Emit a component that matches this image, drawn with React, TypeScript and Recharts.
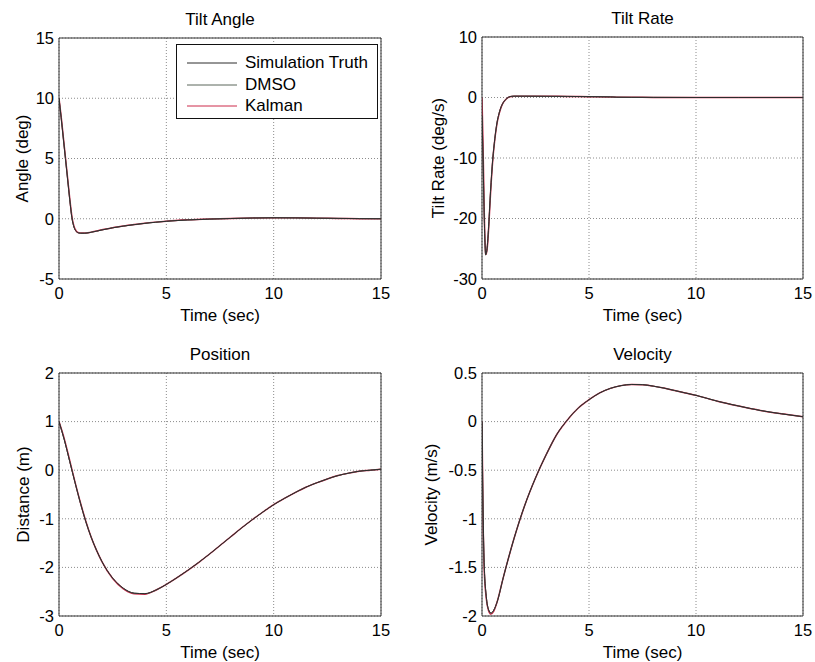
import React from 'react';
import { LineChart, Line, XAxis, YAxis, CartesianGrid, Legend, Label } from 'recharts';

const FONT = '"Liberation Sans", Arial, Helvetica, sans-serif';

// ---------- data ----------
const timeTicks = [0, 5, 10, 15];

const angleTime = [0, 0.1, 0.2, 0.3, 0.4, 0.5, 0.6, 0.7, 0.8, 0.9, 1.0, 1.2, 1.5, 2, 2.5, 3, 3.5, 4, 4.5, 5, 6, 7, 8, 9, 10, 11, 12, 13, 14, 15];
const angleTruth = [10, 8.4, 6.7, 5.0, 3.3, 1.6, 0.1, -0.7, -1.05, -1.17, -1.2, -1.2, -1.12, -0.93, -0.75, -0.61, -0.49, -0.38, -0.29, -0.21, -0.1, -0.03, 0.02, 0.06, 0.08, 0.07, 0.05, 0.03, 0.01, 0];
const angleDmso = [10, 8.4, 6.7, 5.0, 3.3, 1.6, 0.1, -0.7, -1.05, -1.17, -1.2, -1.2, -1.12, -0.93, -0.75, -0.61, -0.49, -0.38, -0.29, -0.21, -0.1, -0.03, 0.02, 0.06, 0.08, 0.07, 0.05, 0.03, 0.01, 0];
const angleKalman = [10, 8.5, 6.8, 5.1, 3.4, 1.7, 0.2, -0.65, -1.02, -1.15, -1.19, -1.19, -1.11, -0.92, -0.74, -0.6, -0.48, -0.37, -0.28, -0.2, -0.09, -0.02, 0.03, 0.07, 0.09, 0.08, 0.05, 0.03, 0.01, 0];
const angleTicks = [-5, 0, 5, 10, 15];

const rateTime = [0, 0.05, 0.1, 0.15, 0.17, 0.2, 0.25, 0.3, 0.4, 0.5, 0.6, 0.7, 0.8, 0.9, 1.0, 1.1, 1.2, 1.3, 1.5, 2, 3, 4, 5, 6, 6.3, 7, 8, 10, 12, 15];
const rateTruth = [-3, -10, -19, -25, -26, -25.8, -24.5, -22, -15.5, -10.3, -6.8, -4.2, -2.6, -1.5, -0.8, -0.35, -0.05, 0.15, 0.22, 0.22, 0.2, 0.18, 0.14, 0.1, 0.05, 0.03, 0.02, 0, 0, 0];
const rateDmso = [-3, -10, -19, -25, -26, -25.8, -24.5, -22, -15.5, -10.3, -6.8, -4.2, -2.6, -1.5, -0.8, -0.35, -0.05, 0.15, 0.22, 0.22, 0.2, 0.18, 0.14, 0.1, 0.05, 0.03, 0.02, 0, 0, 0];
const rateKalman = [0, -8, -18, -24.5, -25.8, -25.9, -24.7, -22.3, -15.8, -10.5, -6.9, -4.3, -2.7, -1.55, -0.82, -0.36, -0.06, 0.14, 0.22, 0.22, 0.2, 0.18, 0.14, 0.1, 0.05, 0.03, 0.02, 0, 0, 0];
const rateTicks = [-30, -20, -10, 0, 10];

const posTime = [0, 0.25, 0.5, 0.75, 1, 1.25, 1.5, 1.75, 2, 2.5, 3, 3.5, 4, 4.5, 5, 5.5, 6, 6.5, 7, 7.5, 8, 8.5, 9, 9.5, 10, 10.5, 11, 11.5, 12, 12.5, 13, 13.5, 14, 14.5, 15];
const posTruth = [1.0, 0.62, 0.18, -0.26, -0.68, -1.06, -1.38, -1.65, -1.88, -2.22, -2.43, -2.53, -2.54, -2.47, -2.35, -2.21, -2.06, -1.9, -1.73, -1.55, -1.37, -1.19, -1.02, -0.86, -0.71, -0.58, -0.46, -0.35, -0.26, -0.18, -0.11, -0.06, -0.02, 0.0, 0.02];
const posDmso = [1.0, 0.62, 0.18, -0.26, -0.68, -1.06, -1.38, -1.65, -1.88, -2.22, -2.43, -2.53, -2.54, -2.47, -2.35, -2.21, -2.06, -1.9, -1.73, -1.55, -1.37, -1.19, -1.02, -0.86, -0.71, -0.58, -0.46, -0.35, -0.26, -0.18, -0.11, -0.06, -0.02, 0.0, 0.02];
const posKalman = [1.0, 0.64, 0.2, -0.25, -0.67, -1.05, -1.38, -1.65, -1.88, -2.23, -2.44, -2.54, -2.55, -2.47, -2.35, -2.21, -2.06, -1.9, -1.73, -1.55, -1.37, -1.19, -1.02, -0.86, -0.71, -0.58, -0.46, -0.35, -0.26, -0.18, -0.11, -0.06, -0.02, 0.0, 0.02];
const posTicks = [-3, -2, -1, 0, 1, 2];

const velTime = [0, 0.05, 0.1, 0.2, 0.3, 0.42, 0.55, 0.7, 1, 1.5, 2, 2.5, 3, 3.5, 4, 4.5, 5, 5.5, 6, 6.5, 7, 7.5, 8, 8.5, 9, 9.5, 10, 11, 12, 13, 14, 15];
const velTruth = [0, -0.9, -1.45, -1.8, -1.93, -1.97, -1.94, -1.86, -1.6, -1.2, -0.86, -0.58, -0.34, -0.13, 0.02, 0.14, 0.225, 0.295, 0.342, 0.37, 0.382, 0.38, 0.365, 0.345, 0.32, 0.295, 0.27, 0.21, 0.16, 0.115, 0.08, 0.05];
const velDmso = [0, -0.9, -1.45, -1.8, -1.93, -1.97, -1.94, -1.86, -1.6, -1.2, -0.86, -0.58, -0.34, -0.13, 0.02, 0.14, 0.225, 0.295, 0.342, 0.37, 0.382, 0.38, 0.365, 0.345, 0.32, 0.295, 0.27, 0.21, 0.16, 0.115, 0.08, 0.05];
const velKalman = [0, -1.0, -1.5, -1.82, -1.94, -1.98, -1.95, -1.86, -1.6, -1.2, -0.86, -0.58, -0.34, -0.13, 0.02, 0.14, 0.225, 0.295, 0.342, 0.37, 0.382, 0.38, 0.365, 0.345, 0.32, 0.295, 0.27, 0.21, 0.16, 0.115, 0.08, 0.05];
const velTicks = [-2, -1.5, -1, -0.5, 0, 0.5];

const SERIES = [
  { key: 'truth', name: 'Simulation Truth', color: '#2c2c2c' },
  { key: 'dmso', name: 'DMSO', color: '#5b665b' },
  { key: 'kalman', name: 'Kalman', color: '#cc2a4a' },
];

function build(time: number[], truth: number[], dmso: number[], kalman: number[]) {
  return time.map((t, i) => ({ t, truth: truth[i], dmso: dmso[i], kalman: kalman[i] }));
}

const tickStyle = { fontSize: 16.5, fill: '#000', fontFamily: FONT };
const AXIS = '#333';

function LegendBox() {
  return (
    <div
      style={{
        width: 202,
        height: 75,
        boxSizing: 'border-box',
        border: '1px solid #111',
        background: '#fff',
        position: 'relative',
        fontFamily: FONT,
        fontSize: 17,
        color: '#000',
      }}
    >
      {SERIES.map((s, i) => (
        <div key={s.key} style={{ position: 'absolute', left: 0, top: 7 + i * 21.5, height: 22, width: 200 }}>
          <svg width={60} height={22} style={{ position: 'absolute', left: 0, top: 0 }}>
            <line x1={10} x2={60} y1={11} y2={11} stroke={s.color} strokeWidth={1} />
          </svg>
          <span style={{ position: 'absolute', left: 68, top: 0, lineHeight: '22px', whiteSpace: 'nowrap' }}>{s.name}</span>
        </div>
      ))}
    </div>
  );
}

type PanelProps = {
  left: number;
  top: number;
  height: number;
  marginTop: number;
  marginRight: number;
  marginBottom: number;
  yAxisWidth: number;
  data: any[];
  yTicks: number[];
  title: string;
  yLabel: string;
  yLabelDist: number;
  legend?: boolean;
};

function Panel(p: PanelProps) {
  const width = 410;
  const yDomain = [p.yTicks[0], p.yTicks[p.yTicks.length - 1]];
  return (
    <div style={{ position: 'absolute', left: p.left, top: p.top, width, height: p.height }}>
      <LineChart
        width={width}
        height={p.height}
        data={p.data}
        margin={{ top: p.marginTop, right: p.marginRight, bottom: p.marginBottom, left: 0 }}
      >
        <CartesianGrid stroke="#8c8c8c" strokeDasharray="1 2" strokeWidth={1} />
        <XAxis
          dataKey="t"
          type="number"
          domain={[0, 15]}
          ticks={timeTicks}
          interval={0}
          allowDataOverflow
          height={40}
          tickSize={0}
          tickMargin={8}
          tickLine={false}
          axisLine={{ stroke: AXIS }}
          tick={tickStyle}
        >
          <Label
            content={({ viewBox }: any) => (
              <text
                x={viewBox.x + viewBox.width / 2}
                y={viewBox.y + 36}
                textAnchor="middle"
                dominantBaseline="central"
                fontSize={17}
                fontFamily={FONT}
                fill="#000"
              >
                Time (sec)
              </text>
            )}
          />
        </XAxis>
        <XAxis
          xAxisId="top"
          orientation="top"
          dataKey="t"
          type="number"
          domain={[0, 15]}
          ticks={timeTicks}
          interval={0}
          mirror
          height={10}
          tick={false}
          tickSize={4}
          tickLine={{ stroke: AXIS }}
          axisLine={{ stroke: AXIS }}
        >
          <Label
            content={({ viewBox }: any) => (
              <text
                x={viewBox.x + viewBox.width / 2}
                y={viewBox.y - 19}
                textAnchor="middle"
                dominantBaseline="central"
                fontSize={17}
                fontFamily={FONT}
                fill="#000"
              >
                {p.title}
              </text>
            )}
          />
        </XAxis>
        <XAxis
          xAxisId="bt"
          orientation="bottom"
          dataKey="t"
          type="number"
          domain={[0, 15]}
          ticks={timeTicks}
          interval={0}
          mirror
          height={10}
          tick={false}
          tickSize={4}
          tickLine={{ stroke: AXIS }}
          axisLine={false}
        />
        <YAxis
          type="number"
          domain={yDomain}
          ticks={p.yTicks}
          interval={0}
          allowDataOverflow
          width={p.yAxisWidth}
          tickSize={0}
          tickMargin={5}
          tickLine={false}
          axisLine={{ stroke: AXIS }}
          tick={tickStyle}
        >
          <Label
            content={({ viewBox }: any) => {
              const cx = viewBox.x + viewBox.width - p.yLabelDist;
              const cy = viewBox.y + viewBox.height / 2;
              return (
                <text
                  x={cx}
                  y={cy}
                  transform={`rotate(-90 ${cx} ${cy})`}
                  textAnchor="middle"
                  dominantBaseline="central"
                  fontSize={17}
                  fontFamily={FONT}
                  fill="#000"
                >
                  {p.yLabel}
                </text>
              );
            }}
          />
        </YAxis>
        <YAxis
          yAxisId="lt"
          type="number"
          domain={yDomain}
          ticks={p.yTicks}
          interval={0}
          mirror
          width={10}
          tick={false}
          tickSize={4}
          tickLine={{ stroke: AXIS }}
          axisLine={false}
        />
        <YAxis
          yAxisId="right"
          orientation="right"
          type="number"
          domain={yDomain}
          ticks={p.yTicks}
          interval={0}
          mirror
          width={10}
          tick={false}
          tickSize={4}
          tickLine={{ stroke: AXIS }}
          axisLine={{ stroke: AXIS }}
        />
        {[...SERIES].reverse().map((s) => (
          <Line
            key={s.key}
            type="monotone"
            dataKey={s.key}
            name={s.name}
            stroke={s.color}
            strokeWidth={s.key === 'kalman' ? 1.5 : 1}
            dot={false}
            activeDot={false}
            isAnimationActive={false}
          />
        ))}
        {p.legend && (
          <Legend
            layout="horizontal"
            verticalAlign="middle"
            align="center"
            wrapperStyle={{ position: 'absolute', left: 176, top: 44, width: 202, height: 75, margin: 0, padding: 0 }}
            content={() => <LegendBox />}
          />
        )}
      </LineChart>
    </div>
  );
}

export default function App() {
  const angleData = build(angleTime, angleTruth, angleDmso, angleKalman);
  const rateData = build(rateTime, rateTruth, rateDmso, rateKalman);
  const posData = build(posTime, posTruth, posDmso, posKalman);
  const velData = build(velTime, velTruth, velDmso, velKalman);
  return (
    <div style={{ position: 'absolute', left: 0, top: 0, width: 815, height: 662, background: '#fff', fontFamily: FONT }}>
      <Panel left={0} top={0} height={330} marginTop={38} marginRight={29} marginBottom={11} yAxisWidth={59}
        data={angleData} yTicks={angleTicks} title="Tilt Angle" yLabel="Angle (deg)" yLabelDist={37} legend />
      <Panel left={405} top={0} height={330} marginTop={37} marginRight={12} marginBottom={11} yAxisWidth={77}
        data={rateData} yTicks={rateTicks} title="Tilt Rate" yLabel="Tilt Rate (deg/s)" yLabelDist={44} />
      <Panel left={0} top={330} height={332} marginTop={43} marginRight={29} marginBottom={6} yAxisWidth={59}
        data={posData} yTicks={posTicks} title="Position" yLabel="Distance (m)" yLabelDist={36} />
      <Panel left={405} top={330} height={332} marginTop={43} marginRight={12} marginBottom={6} yAxisWidth={77}
        data={velData} yTicks={velTicks} title="Velocity" yLabel="Velocity (m/s)" yLabelDist={51} />
    </div>
  );
}
